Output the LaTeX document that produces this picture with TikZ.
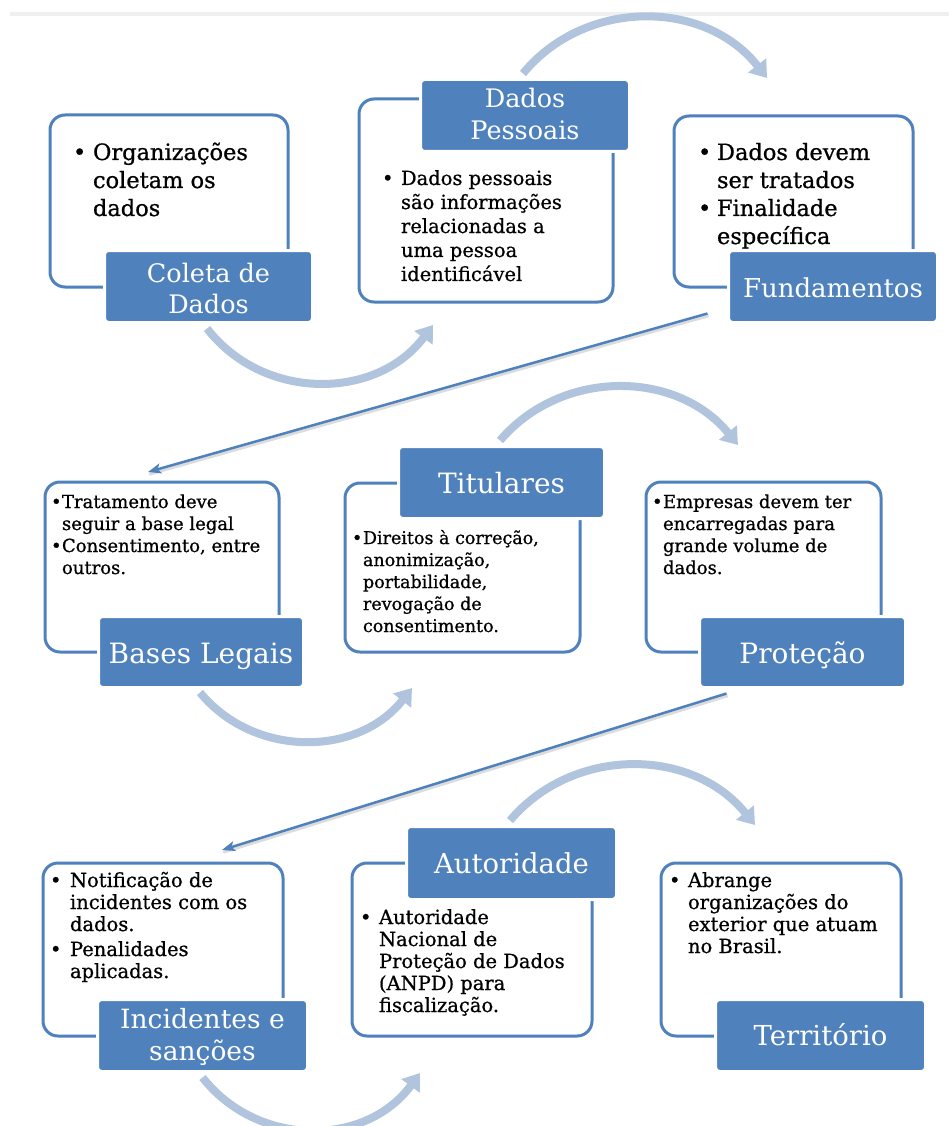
\documentclass[tikz,border=0pt]{standalone}
\usepackage{fontspec}
\setmainfont{DejaVu Serif}
\newfontfamily\bodyfont{DejaVu Serif}[FakeBold=0.8]
\usetikzlibrary{arrows.meta}
\definecolor{acc}{HTML}{4F81BD}
\definecolor{arcc}{HTML}{B0C4DE}
\newcommand\bltm[1]{\makebox[#1][l]{•}}
\tikzset{
  whitebox/.style={draw=acc, line width=3pt, rounded corners=15pt, fill=white, inner sep=0pt, outer sep=0pt},
  labelbox/.style={fill=acc, draw=white, line width=3pt, rounded corners=4pt, inner sep=0pt, outer sep=0pt},
  bodytext/.style={anchor=base west, inner sep=0pt, outer sep=0pt, text=black, font=\bodyfont},
  labeltext/.style={anchor=base, inner sep=0pt, outer sep=0pt, text=white},
  curvearrow/.style={draw=arcc, line width=8pt, -{Triangle[length=16pt,width=22pt]}},
  linkarrow/.style={draw=acc, line width=2.5pt, -{Stealth[length=13pt,width=10pt,inset=3pt]}},
  linkshadow/.style={draw=black!30, opacity=0.45, line width=3pt, transform canvas={shift={(1.2pt,-2.2pt)}}},
}
\begin{document}
\begin{tikzpicture}[x=1pt,y=-1pt]
\useasboundingbox (0,0) rectangle (949,1126);
\clip (0,0) rectangle (949,1126);
\fill[white] (0,0) rectangle (949,1126);
\draw[line width=4pt, black!6] (10,14) -- (949,14);

% ---------- white boxes ----------
\node[whitebox, minimum width=238pt, minimum height=172pt] (b1) at (169,201) {};
\node[whitebox, minimum width=254pt, minimum height=203pt] (b2) at (486,200.5) {};
\node[whitebox, minimum width=239pt, minimum height=171pt] (b3) at (793.5,201.5) {};
\node[whitebox, minimum width=234pt, minimum height=170pt] (b4) at (162,567) {};
\node[whitebox, minimum width=235pt, minimum height=169pt] (b5) at (462.5,567.5) {};
\node[whitebox, minimum width=235pt, minimum height=170pt] (b6) at (763.5,567) {};
\node[whitebox, minimum width=240pt, minimum height=173pt] (b7) at (163,949.5) {};
\node[whitebox, minimum width=240pt, minimum height=173pt] (b8) at (472,949.5) {};
\node[whitebox, minimum width=240pt, minimum height=173pt] (b9) at (781,949.5) {};

% ---------- label boxes ----------
\node[labelbox, minimum width=208pt, minimum height=72pt] (l1) at (208.5,286.5) {};
\node[labelbox, minimum width=209pt, minimum height=72pt] (l2) at (525,115.5) {};
\node[labelbox, minimum width=209pt, minimum height=72pt] (l3) at (833,286.5) {};
\node[labelbox, minimum width=205pt, minimum height=71pt] (l4) at (201,652) {};
\node[labelbox, minimum width=206pt, minimum height=72pt] (l5) at (501.5,482.5) {};
\node[labelbox, minimum width=206pt, minimum height=71pt] (l6) at (802.5,652) {};
\node[labelbox, minimum width=210pt, minimum height=72pt] (l7) at (202.5,1035.5) {};
\node[labelbox, minimum width=210pt, minimum height=73pt] (l8) at (511.5,863) {};
\node[labelbox, minimum width=210pt, minimum height=72pt] (l9) at (820.5,1035.5) {};

% ---------- label texts ----------
\node[labeltext] (lt1) at (208.5,282) {\fontsize{25.5}{31.5}\selectfont\begin{tabular}[t]{@{}c@{}}Coleta de\\Dados\end{tabular}};
\node[labeltext] (lt2) at (525,108) {\fontsize{25.5}{32}\selectfont\begin{tabular}[t]{@{}c@{}}Dados\\Pessoais\end{tabular}};
\node[labeltext] (lt3) at (833,297) {\fontsize{26}{31}\selectfont Fundamentos};
\node[labeltext] (lt4) at (201,663) {\fontsize{28}{32}\selectfont Bases Legais};
\node[labeltext] (lt5) at (501.5,493) {\fontsize{28}{32}\selectfont Titulares};
\node[labeltext] (lt6) at (802.5,663) {\fontsize{28}{32}\selectfont Proteção};
\node[labeltext] (lt7) at (202.5,1028) {\fontsize{26.5}{32}\selectfont\begin{tabular}[t]{@{}c@{}}Incidentes e\\sanções\end{tabular}};
\node[labeltext] (lt8) at (511.5,873) {\fontsize{27.5}{32}\selectfont Autoridade};
\node[labeltext] (lt9) at (820.5,1045) {\fontsize{27.5}{32}\selectfont Território};

% ---------- body texts ----------
\node[bodytext] (t1) at (73,160) {\fontsize{22.5}{28}\selectfont\begin{tabular}[t]{@{}l@{}l@{}}\bltm{20pt}&Organizações\\&coletam os\\&dados\end{tabular}};
\node[bodytext] (t2) at (382,185) {\fontsize{19.5}{24}\selectfont\begin{tabular}[t]{@{}l@{}l@{}}\bltm{19pt}&Dados pessoais\\&são informações\\&relacionadas a\\&uma pessoa\\&identificável\end{tabular}};
\node[bodytext] (t3) at (698,160) {\fontsize{22.5}{28}\selectfont\begin{tabular}[t]{@{}l@{}l@{}}\bltm{19pt}&Dados devem\\&ser tratados\\\bltm{19pt}&Finalidade\\&específica\end{tabular}};
\node[bodytext] (t4) at (51,508) {\fontsize{18}{22}\selectfont\begin{tabular}[t]{@{}l@{}l@{}}\bltm{11pt}&Tratamento deve\\&seguir a base legal\\\bltm{11pt}&Consentimento, entre\\&outros.\end{tabular}};
\node[bodytext] (t5) at (352,544) {\fontsize{17.5}{22}\selectfont\begin{tabular}[t]{@{}l@{}l@{}}\bltm{11pt}&Direitos à correção,\\&anonimização,\\&portabilidade,\\&revogação de\\&consentimento.\end{tabular}};
\node[bodytext] (t6) at (652,508) {\fontsize{18}{22}\selectfont\begin{tabular}[t]{@{}l@{}l@{}}\bltm{11pt}&Empresas devem ter\\&encarregadas para\\&grande volume de\\&dados.\end{tabular}};
\node[bodytext] (t7) at (50,887) {\fontsize{19.5}{22}\selectfont\begin{tabular}[t]{@{}l@{}l@{}}\bltm{20pt}&Notificação de\\&incidentes com os\\&dados.\\[3pt]\bltm{20pt}&Penalidades\\&aplicadas.\end{tabular}};
\node[bodytext] (t8) at (360,924) {\fontsize{19.5}{22}\selectfont\begin{tabular}[t]{@{}l@{}l@{}}\bltm{19pt}&Autoridade\\&Nacional de\\&Proteção de Dados\\&(ANPD) para\\&fiscalização.\end{tabular}};
\node[bodytext] (t9) at (669,887) {\fontsize{19.5}{22}\selectfont\begin{tabular}[t]{@{}l@{}l@{}}\bltm{19pt}&Abrange\\&organizações do\\&exterior que atuam\\&no Brasil.\end{tabular}};

% ---------- curved arrows ----------
\draw[curvearrow] ([shift={(-1.5,6)}]l1.south) .. controls (264,402) and (377,400) .. ([shift={(74,23)}]b2.south west);
\draw[curvearrow] ([shift={(-2,-6)}]l2.north) .. controls (585,-2) and (705,-1) .. ([shift={(93,-38)}]b3.north west);
\draw[curvearrow] ([shift={(-1,5)}]l4.south) .. controls (254,758) and (358,757) .. ([shift={(67,36)}]b5.south west);
\draw[curvearrow] ([shift={(-1.5,-6)}]l5.north) .. controls (562,368) and (677,370) .. ([shift={(92,-37)}]b6.north west);
\draw[curvearrow] ([shift={(0,6)}]l7.south) .. controls (258,1148) and (366,1147) .. ([shift={(68,37)}]b8.south west);
\draw[curvearrow] ([shift={(-1.5,-6)}]l8.north) .. controls (573,746) and (692,747) .. ([shift={(94,-38)}]b9.north west);

% ---------- straight arrows ----------
\draw[linkshadow] ([shift={(-21,-9)}]l3.south west) -- ([shift={(103,-10)}]b4.north west);
\draw[linkarrow] ([shift={(-21,-9)}]l3.south west) -- ([shift={(103,-10)}]b4.north west);
\draw[linkshadow] ([shift={(27,6)}]l6.south west) -- ([shift={(179,-13)}]b7.north west);
\draw[linkarrow] ([shift={(27,6)}]l6.south west) -- ([shift={(179,-13)}]b7.north west);
\end{tikzpicture}
\end{document}
